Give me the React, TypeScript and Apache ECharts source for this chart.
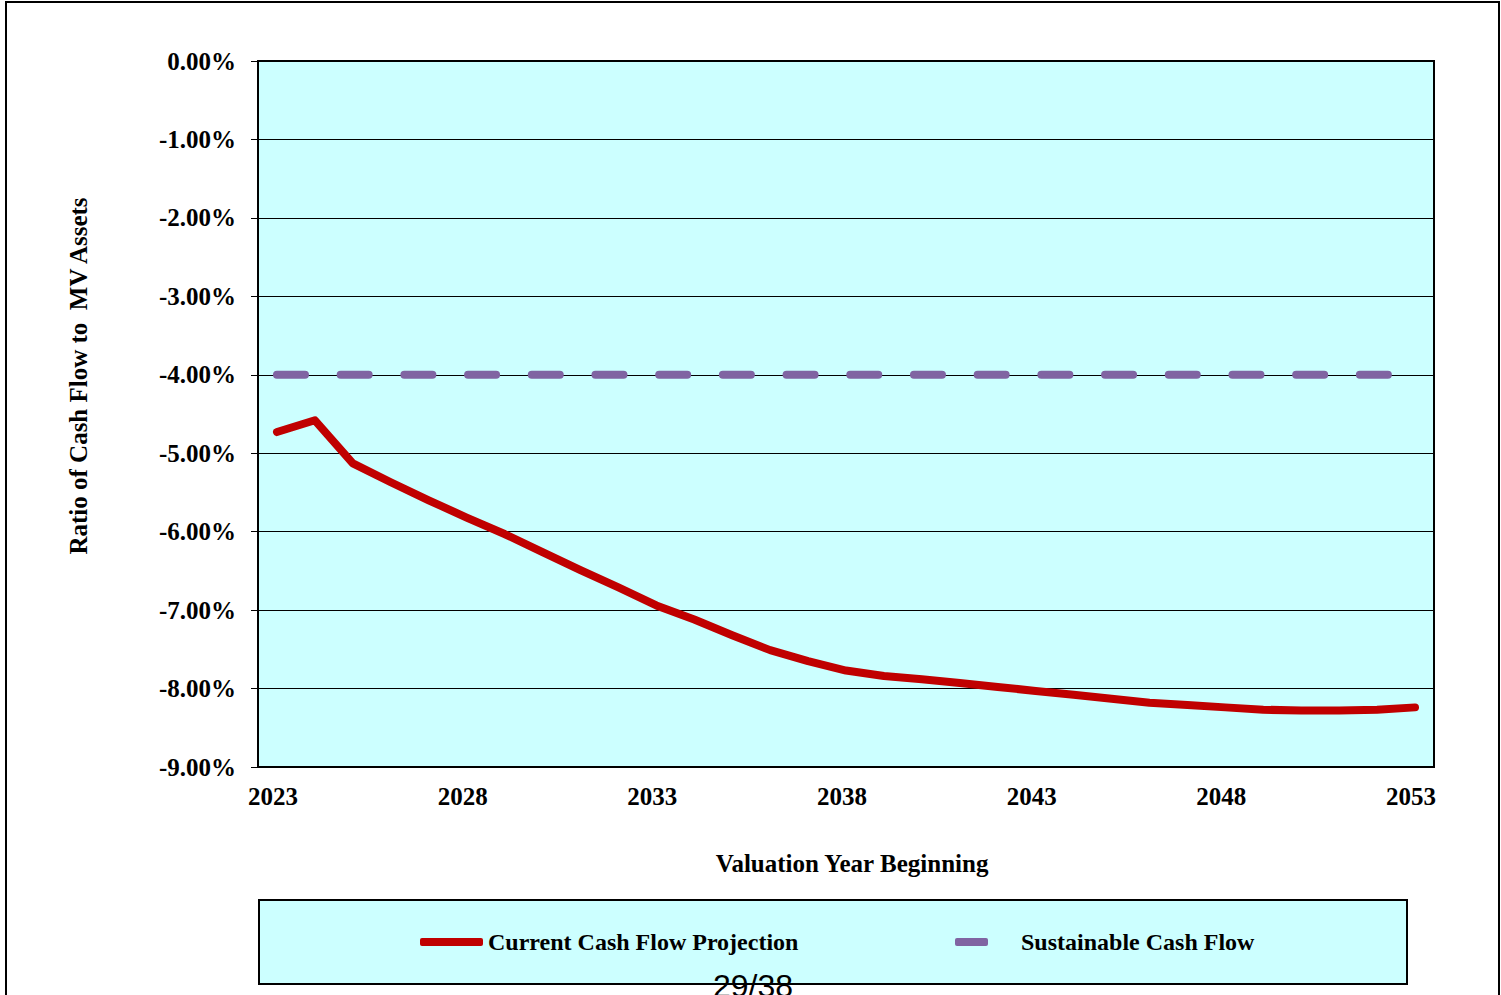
import React, { useEffect, useRef } from "react";
import * as echarts from "echarts";

const years: string[] = [
  "2023", "2024", "2025", "2026", "2027", "2028", "2029", "2030", "2031", "2032",
  "2033", "2034", "2035", "2036", "2037", "2038", "2039", "2040", "2041", "2042",
  "2043", "2044", "2045", "2046", "2047", "2048", "2049", "2050", "2051", "2052", "2053",
];

const currentCashFlow: number[] = [
  -4.73, -4.58, -5.13, -5.37, -5.6, -5.82, -6.03, -6.26, -6.49, -6.71,
  -6.94, -7.12, -7.32, -7.51, -7.65, -7.77, -7.84, -7.88, -7.93, -7.98,
  -8.03, -8.08, -8.13, -8.18, -8.21, -8.24, -8.27, -8.28, -8.28, -8.27, -8.24,
];

const sustainableCashFlow: number[] = [
  -4, -4, -4, -4, -4, -4, -4, -4, -4, -4,
  -4, -4, -4, -4, -4, -4, -4, -4, -4, -4,
  -4, -4, -4, -4, -4, -4, -4, -4, -4, -4, -4,
];

const seriesNames: string[] = ["Current Cash Flow Projection", "Sustainable Cash Flow"];
const xAxisTitle = "Valuation Year Beginning";
const yAxisTitle = "Ratio of Cash Flow to  MV Assets";
const pageLabel = "29/38";

const SERIF = '"Liberation Serif", "Times New Roman", serif';

export default function App() {
  const ref = useRef<HTMLDivElement>(null);

  useEffect(() => {
    if (!ref.current) return;
    const chart = echarts.init(ref.current, undefined, { renderer: "svg" });
    const labelStyle = { fontFamily: SERIF, fontWeight: "bold" as const, fontSize: 25, color: "#000" };
    const legendText = { fontFamily: SERIF, fontWeight: "bold" as const, fontSize: 24, color: "#000" };
    chart.setOption({
      animation: false,
      backgroundColor: "#fff",
      grid: {
        left: 258,
        top: 61,
        width: 1176,
        height: 706,
        show: true,
        backgroundColor: "#CCFFFF",
        borderColor: "#000",
        borderWidth: 2,
        containLabel: false,
      },
      xAxis: {
        type: "category",
        data: years,
        boundaryGap: true,
        name: xAxisTitle,
        nameLocation: "middle",
        nameGap: 84,
        nameTextStyle: { ...labelStyle, padding: [0, 0, 0, 12] },
        axisLine: { show: true, lineStyle: { color: "#000", width: 2 } },
        axisTick: { show: false },
        axisLabel: { interval: 4, margin: 17, ...labelStyle, padding: [0, 8, 0, 0] },
        splitLine: { show: false },
      },
      yAxis: {
        type: "value",
        min: -9,
        max: 0,
        interval: 1,
        axisLine: { show: true, lineStyle: { color: "#000", width: 2 } },
        axisTick: { show: true, length: 7, lineStyle: { color: "#000", width: 1 } },
        axisLabel: {
          margin: 22,
          ...labelStyle,
          formatter: (v: number) => (v === 0 ? "0.00%" : v.toFixed(2) + "%"),
        },
        splitLine: { show: true, lineStyle: { color: "#000", width: 1 } },
      },
      legend: [
        {
          data: [seriesNames[0]],
          left: 420,
          top: 930,
          padding: 0,
          icon: "roundRect",
          itemWidth: 63,
          itemHeight: 8,
          textStyle: { ...legendText },
        },
        {
          data: [seriesNames[1]],
          left: 955,
          top: 930,
          padding: 0,
          icon: "roundRect",
          itemWidth: 33,
          itemHeight: 8,
          textStyle: { ...legendText, padding: [0, 0, 0, 28] },
        },
      ],
      graphic: [
        {
          type: "rect",
          z: -10,
          shape: { x: 6, y: 2, width: 1493, height: 1010 },
          style: { fill: "none", stroke: "#000", lineWidth: 2 },
        },
        {
          type: "rect",
          z: -5,
          shape: { x: 259, y: 900, width: 1148, height: 84 },
          style: { fill: "#CCFFFF", stroke: "#000", lineWidth: 2 },
        },
        {
          type: "text",
          z: 10,
          x: 78,
          y: 376,
          rotation: Math.PI / 2,
          style: {
            text: yAxisTitle,
            fontFamily: SERIF,
            fontWeight: "bold",
            fontSize: 25,
            fill: "#000",
            textAlign: "center",
            textVerticalAlign: "middle",
          },
        },
        {
          type: "text",
          z: 10,
          x: 753,
          y: 970,
          style: {
            text: pageLabel,
            fontFamily: '"Liberation Sans", Arial, sans-serif',
            fontSize: 32,
            fill: "#000",
            textAlign: "center",
            textVerticalAlign: "top",
          },
        },
      ],
      series: [
        {
          name: seriesNames[0],
          type: "line",
          data: currentCashFlow,
          symbol: "none",
          itemStyle: { color: "#C00000" },
          lineStyle: { color: "#C00000", width: 8, cap: "round", join: "round" },
          z: 3,
        },
        {
          name: seriesNames[1],
          type: "line",
          data: sustainableCashFlow,
          symbol: "none",
          itemStyle: { color: "#8064A2" },
          lineStyle: { color: "#8064A2", width: 8, type: [28, 35.7], cap: "round" },
          z: 2,
        },
      ],
    });
    return () => chart.dispose();
  }, []);

  return (
    <div
      ref={ref}
      style={{ position: "absolute", left: 0, top: 0, width: 1501, height: 995 }}
    />
  );
}
